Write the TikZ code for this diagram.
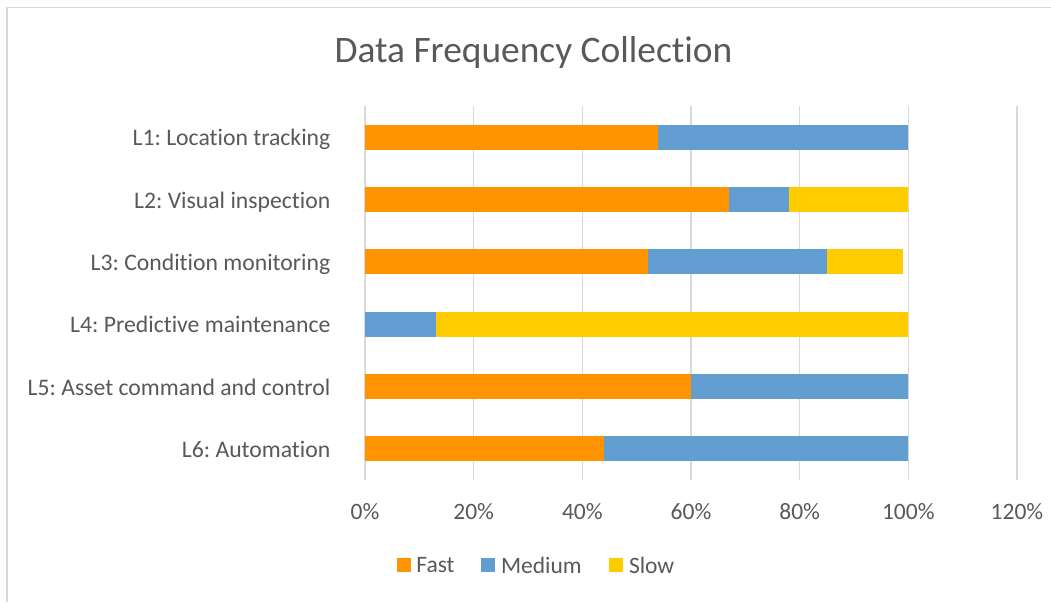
\documentclass[tikz,border=0pt]{standalone}
\usepackage{fontspec}
\setmainfont{Carlito}[Ligatures=NoCommon]
\frenchspacing
\usetikzlibrary{positioning}
\definecolor{fastorange}{RGB}{255,147,0}
\definecolor{medblue}{RGB}{98,158,210}
\definecolor{slowyellow}{RGB}{255,204,0}
\definecolor{gridgray}{RGB}{217,217,217}
\definecolor{textgray}{RGB}{89,89,89}
\tikzset{
  catlabel/.style={anchor=base east, text=textgray, inner sep=0pt, font=\fontsize{23.7}{28}\selectfont},
  ticklabel/.style={anchor=base, text=textgray, inner sep=0pt, font=\fontsize{23.5}{28}\selectfont},
  legtext/.style={text=textgray, inner sep=0pt, font=\fontsize{23.5}{28}\selectfont},
  legbox/.style={minimum size=14pt, inner sep=0pt},
  gridline/.style={gridgray, line width=1.5pt}
}

\begin{document}
\begin{tikzpicture}[x=1pt,y=-1pt]
  \useasboundingbox (0,0) rectangle (1051,602);
  \fill[white] (0,0) rectangle (1051,602);
  \draw[gridgray, line width=1.5pt] (7,602) -- (7,7.5) -- (1051,7.5);
  \node[anchor=base, text=textgray, inner sep=0pt, font=\fontsize{37.4}{44}\selectfont] (title) at (533.5,63) {Data Frequency Collection};
  % grid and axis ticks
  \foreach \i in {0,...,6}{
    \draw[gridline] ({365+108.66*\i},106) -- ({365+108.66*\i},480);
    \pgfmathtruncatemacro{\p}{20*\i}
    \node[ticklabel] (tick\i) at ({365+108.66*\i},519) {\p\%};
  }
  % bars
  \foreach \n/\lab/\f/\m/\s in {1/L1: Location tracking/54/46/0,
      2/L2: Visual inspection/67/11/22,
      3/L3: Condition monitoring/52/33/14,
      4/L4: Predictive maintenance/0/13/87,
      5/L5: Asset command and control/60/40/0,
      6/L6: Automation/44/56/0}{
    \pgfmathsetmacro{\yc}{137.2+62.33*(\n-1)}
    \fill[fastorange] (365,\yc-12.5) rectangle ({365+5.433*\f},\yc+12.5);
    \fill[medblue] ({365+5.433*\f},\yc-12.5) rectangle ({365+5.433*(\f+\m)},\yc+12.5);
    \fill[slowyellow] ({365+5.433*(\f+\m)},\yc-12.5) rectangle ({365+5.433*(\f+\m+\s)},\yc+12.5);
    \node[catlabel] (cat\n) at (330.5,\yc+8.5) {\lab};
  }
  % legend
  \node[legbox, fill=fastorange] (kfast) at (403.7,565) {};
  \node[legtext, right=5.3pt of kfast] (tfast) {Fast};
  \node[legbox, fill=medblue] (kmed) at (488.3,565) {};
  \node[legtext, right=5.3pt of kmed] (tmed) {Medium};
  \node[legbox, fill=slowyellow] (kslow) at (616.3,565) {};
  \node[legtext, right=5.3pt of kslow] (tslow) {Slow};
\end{tikzpicture}
\end{document}
